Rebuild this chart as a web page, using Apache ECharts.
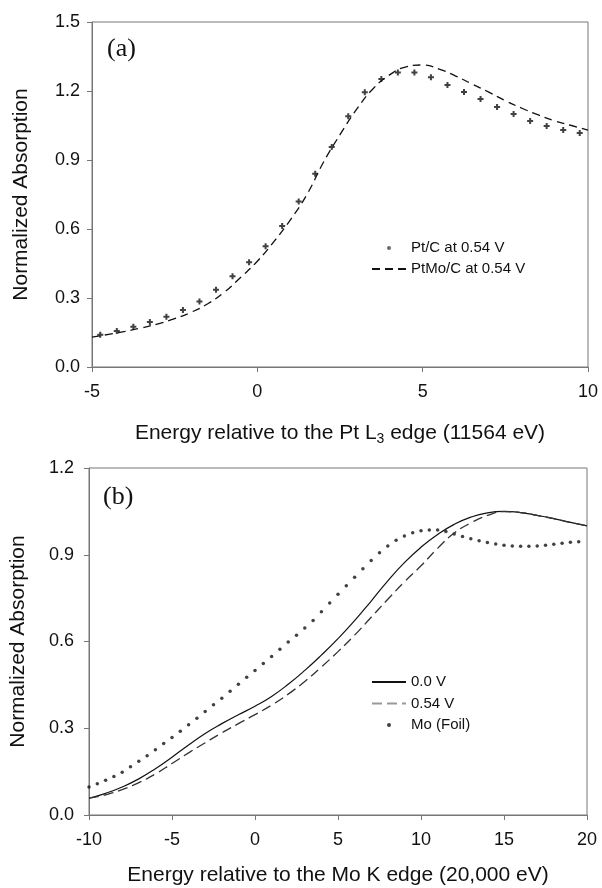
<!DOCTYPE html>
<html>
<head>
<meta charset="utf-8">
<script src="https://cdn.jsdelivr.net/npm/echarts@6/dist/echarts.min.js"></script>
<style>
  html, body { margin: 0; padding: 0; background: #fff; }
  #chart { width: 602px; height: 888px; }
</style>
</head>
<body>
<div id="chart"></div>
<script>
// panel (a) - Pt L3 edge
var ptcEnergy = [-4.75,-4.25,-3.75,-3.25,-2.75,-2.25,-1.75,-1.25,-0.75,-0.25,0.25,0.75,1.25,1.75,2.25,2.75,3.25,3.75,4.25,4.75,5.25,5.75,6.25,6.75,7.25,7.75,8.25,8.75,9.25,9.75];
var ptcAbs = [0.14,0.157,0.175,0.196,0.218,0.248,0.285,0.336,0.395,0.455,0.525,0.613,0.72,0.84,0.957,1.09,1.195,1.252,1.28,1.28,1.26,1.226,1.196,1.165,1.13,1.10,1.07,1.048,1.03,1.017];

var ptmoEnergy = [-5,-4.5,-4,-3.5,-3,-2.5,-2,-1.5,-1,-0.5,0,0.5,1,1.5,2,2.5,3,3.5,4,4.5,5,5.5,6,6.5,7,7.5,8,8.5,9,9.5,10];
var ptmoAbs = [0.13,0.142,0.155,0.17,0.188,0.21,0.238,0.275,0.325,0.39,0.46,0.545,0.64,0.75,0.89,1.01,1.12,1.21,1.27,1.305,1.313,1.295,1.265,1.23,1.195,1.158,1.125,1.096,1.07,1.05,1.03];

// panel (b) - Mo K edge
var moEnergy = [-10,-9,-8,-7,-6,-5,-4,-3,-2,-1,0,1,2,3,4,5,6,7,8,9,10,11,12,13,14,15,16,17,18,19,20];
var mo00Abs = [0.058,0.075,0.097,0.125,0.16,0.2,0.242,0.282,0.316,0.347,0.376,0.41,0.452,0.5,0.553,0.61,0.672,0.74,0.81,0.873,0.926,0.97,1.005,1.03,1.045,1.05,1.046,1.036,1.025,1.012,1.0];
var mo054Abs = [0.058,0.07,0.088,0.112,0.142,0.178,0.215,0.25,0.284,0.316,0.347,0.38,0.418,0.462,0.512,0.565,0.622,0.684,0.746,0.806,0.862,0.922,0.975,1.01,1.036,1.049,1.046,1.036,1.025,1.012,1.0];

var foilEnergy = [-10,-9.5,-9,-8.5,-8,-7.5,-7,-6.5,-6,-5.5,-5,-4.5,-4,-3.5,-3,-2.5,-2,-1.5,-1,-0.5,0,0.5,1,1.5,2,2.5,3,3.5,4,4.5,5,5.5,6,6.5,7,7.5,8,8.5,9,9.5,10,10.5,11,11.5,12,12.5,13,13.5,14,14.5,15,15.5,16,16.5,17,17.5,18,18.5,19,19.5];
var foilAbs = [0.097,0.108,0.120,0.133,0.148,0.167,0.186,0.205,0.226,0.247,0.268,0.290,0.312,0.335,0.358,0.381,0.404,0.428,0.452,0.476,0.500,0.524,0.548,0.573,0.598,0.622,0.647,0.673,0.703,0.733,0.763,0.793,0.822,0.852,0.88,0.907,0.93,0.95,0.965,0.976,0.983,0.986,0.986,0.98,0.972,0.963,0.955,0.948,0.942,0.937,0.933,0.93,0.929,0.929,0.93,0.933,0.936,0.94,0.943,0.945];

function pairs(xs, ys) {
    return xs.map(function (x, i) { return [x, ys[i]]; });
}

var FONT = '"Liberation Sans", Arial, sans-serif';
var INK = '#111';
var FRAME = '#777';
// hides the little circle ECharts puts in the middle of line legend icons
var NO_DOT = { color: 'rgba(0,0,0,0)', borderColor: 'rgba(0,0,0,0)', borderWidth: 0 };

function valueX(gridIndex, min, max, name, nameGap) {
    return {
        type: 'value', gridIndex: gridIndex, min: min, max: max, interval: 5,
        name: name, nameLocation: 'middle', nameGap: nameGap,
        nameTextStyle: {
            fontSize: 21, color: INK, fontFamily: FONT,
            rich: { sub: { fontSize: 14, color: INK, fontFamily: FONT, padding: [12, 0, 0, 0] } }
        },
        axisLine: { show: true, onZero: false, lineStyle: { color: FRAME, width: 1 } },
        axisTick: { show: true, inside: false, length: 5, lineStyle: { color: FRAME } },
        axisLabel: { fontSize: 18, color: INK, fontFamily: FONT, margin: 16 },
        splitLine: { show: false }
    };
}

function valueY(gridIndex, max, interval, margin) {
    return {
        type: 'value', gridIndex: gridIndex, min: 0, max: max, interval: interval,
        name: 'Normalized Absorption', nameLocation: 'middle', nameGap: 60, nameRotate: 90,
        nameTextStyle: { fontSize: 21, color: INK, fontFamily: FONT },
        axisLine: { show: true, onZero: false, lineStyle: { color: FRAME, width: 1 } },
        axisTick: { show: true, inside: false, length: 5, lineStyle: { color: FRAME } },
        axisLabel: {
            fontSize: 18, color: INK, fontFamily: FONT, margin: margin,
            formatter: function (v) { return v.toFixed(1); }
        },
        splitLine: { show: false }
    };
}

var chart = echarts.init(document.getElementById('chart'));

var option = {
    animation: false,
    backgroundColor: '#fff',
    title: [
        { text: '(a)', left: 102, top: 31, padding: 5,
          textStyle: { fontFamily: '"Liberation Serif", "Times New Roman", serif', fontSize: 26, fontWeight: 'normal', color: INK } },
        { text: '(b)', left: 98, top: 479, padding: 5,
          textStyle: { fontFamily: '"Liberation Serif", "Times New Roman", serif', fontSize: 26, fontWeight: 'normal', color: INK } }
    ],
    grid: [
        { left: 92, top: 22, width: 496, height: 345, show: true, borderColor: FRAME, borderWidth: 1, backgroundColor: 'transparent' },
        { left: 88, top: 468, width: 499, height: 347, show: true, borderColor: FRAME, borderWidth: 1, backgroundColor: 'transparent' }
    ],
    xAxis: [
        valueX(0, -5, 10, 'Energy relative to the Pt L{sub|3} edge (11564 eV)', 53),
        valueX(1, -10, 20, 'Energy relative to the Mo K edge (20,000 eV)', 50)
    ],
    yAxis: [
        valueY(0, 1.5, 0.3, 12),
        valueY(1, 1.2, 0.3, 15)
    ],
    legend: [
        {
            orient: 'vertical', left: 366, top: 235.5, itemWidth: 34, itemHeight: 4, itemGap: 6,
            textStyle: { fontSize: 15, color: INK, fontFamily: FONT },
            data: [
                { name: 'Pt/C at 0.54 V', icon: 'circle', itemStyle: { color: '#444' } },
                { name: 'PtMo/C at 0.54 V', itemStyle: NO_DOT }
            ]
        },
        {
            orient: 'vertical', left: 366, top: 669.5, itemWidth: 34, itemHeight: 4, itemGap: 6.5,
            textStyle: { fontSize: 15, color: INK, fontFamily: FONT },
            data: [
                { name: '0.0 V', itemStyle: NO_DOT },
                { name: '0.54 V', itemStyle: NO_DOT, lineStyle: { color: '#999' } },
                { name: 'Mo (Foil)', icon: 'circle' }
            ]
        }
    ],
    series: [
        {
            name: 'PtMo/C at 0.54 V', type: 'line', xAxisIndex: 0, yAxisIndex: 0,
            data: pairs(ptmoEnergy, ptmoAbs), smooth: true, symbol: 'none',
            lineStyle: { color: INK, width: 1.3, type: [8, 5] }, itemStyle: { color: INK }
        },
        {
            name: 'Pt/C at 0.54 V', type: 'scatter', xAxisIndex: 0, yAxisIndex: 0,
            data: pairs(ptcEnergy, ptcAbs),
            symbol: 'path://M2,0H4V2H6V4H4V6H2V4H0V2H2Z', symbolSize: 6,
            itemStyle: { color: INK }
        },
        {
            name: '0.0 V', type: 'line', xAxisIndex: 1, yAxisIndex: 1,
            data: pairs(moEnergy, mo00Abs), smooth: true, symbol: 'none',
            lineStyle: { color: INK, width: 1.2 }, itemStyle: { color: INK }
        },
        {
            name: '0.54 V', type: 'line', xAxisIndex: 1, yAxisIndex: 1,
            data: pairs(moEnergy, mo054Abs), smooth: true, symbol: 'none',
            lineStyle: { color: '#333', width: 1.3, type: [10, 5] }, itemStyle: { color: '#333' }
        },
        {
            name: 'Mo (Foil)', type: 'scatter', xAxisIndex: 1, yAxisIndex: 1,
            data: pairs(foilEnergy, foilAbs),
            symbol: 'circle', symbolSize: 3.5,
            itemStyle: { color: INK }
        }
    ]
};

chart.setOption(option);
</script>
</body>
</html>
